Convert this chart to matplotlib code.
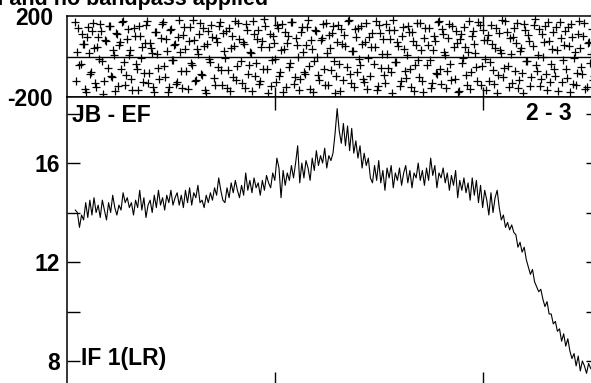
import matplotlib.pyplot as plt
import numpy as np

plt.rcParams['font.family'] = ['Liberation Sans', 'DejaVu Sans']
plt.rcParams['font.weight'] = 'bold'

# channel numbers of the plotted points
first_chan = 4
# amplitude per channel (lower panel)
amp = [14.1, 14.0, 13.4, 13.9, 13.7, 14.4, 13.8, 14.5, 13.9, 14.6,
       14.0, 14.3, 13.8, 14.5, 14.1, 13.7, 14.4, 14.0, 14.7, 14.2,
       13.9, 14.3, 14.1, 14.8, 14.4, 14.6, 14.2, 14.4, 13.9, 14.5,
       14.2, 14.9, 14.1, 14.6, 13.8, 14.3, 14.5, 14.0, 14.7, 14.2,
       14.9, 14.3, 14.6, 14.1, 14.7, 14.4, 14.9, 14.3, 14.6, 14.8,
       14.3, 14.7, 14.2, 14.9, 14.4, 15.0, 14.3, 14.8, 14.6, 15.1,
       14.4, 14.5, 14.2, 14.7, 14.4, 14.8, 14.5, 15.0, 14.7, 15.4,
       14.9, 14.5, 14.4, 15.0, 14.6, 15.2, 14.8, 15.3, 14.9, 14.6,
       15.1, 14.7, 15.6, 14.9, 15.3, 14.8, 15.4, 15.0, 15.2, 14.7,
       15.3, 14.9, 15.5, 15.2, 15.0, 15.6, 15.3, 16.2, 15.8, 14.6,
       15.7, 15.1, 15.6, 15.3, 15.9, 15.4, 16.0, 16.7, 15.2, 16.0,
       15.4, 16.1, 15.8, 15.3, 16.2, 15.7, 16.5, 15.9, 16.3, 16.0,
       16.6, 15.8, 16.3, 16.1, 16.4, 17.2, 18.2, 17.3, 16.8, 17.6,
       16.7, 17.5, 16.5, 17.4, 16.4, 16.9, 16.2, 16.7, 15.8, 16.4,
       15.9, 16.2, 15.4, 15.2, 15.9, 15.3, 16.1, 15.2, 15.7, 14.9,
       15.8, 15.4, 15.9, 15.0, 15.6, 15.3, 15.8, 15.1, 15.6, 15.9,
       15.2, 15.7, 15.0, 15.6, 15.4, 16.0, 15.3, 15.7, 15.1, 15.8,
       15.3, 16.2, 15.5, 15.9, 15.0, 15.6, 15.4, 15.8, 15.2, 15.6,
       14.9, 15.5, 15.1, 15.7, 14.6, 15.3, 14.9, 15.4, 14.8, 15.2,
       14.5, 15.4, 14.7, 15.3, 14.4, 15.1, 14.2, 14.9, 14.5, 13.9,
       14.8, 14.0, 14.6, 14.9, 14.2, 13.7, 13.9, 13.4, 13.6, 13.3,
       13.5, 13.2, 13.1, 12.6, 12.8, 12.4, 12.6, 12.1, 11.8, 11.5,
       11.7, 11.2, 11.0, 10.8, 10.9, 10.5, 10.2, 10.4, 9.9, 9.9,
       9.5, 9.6, 9.2, 9.3, 8.8, 9.1, 8.6, 8.9, 8.4, 8.1,
       8.3, 7.8, 8.2, 7.6, 8.0, 7.8, 7.5, 7.9, 7.7, 7.6]

# phases (degrees), two samples per channel (upper panel)
phase_a = [170, 20, -44, 112, 63, -176, 145, -86, 128, 40,
           -150, 95, 160, -20, -120, 75, 150, -95, 30, -170,
           110, 55, -60, 175, -140, 85, 5, -110, 140, -35,
           -165, 100, 45, -80, 155, -130, 65, 15, -175, 120,
           -55, 90, 170, -100, 25, -150, 135, -15, 60, -125,
           180, -70, 105, 35, -160, 145, -40, 80, -115, 10,
           165, -90, 50, -180, 125, -25, 95, -140, 70, 150,
           -65, 115, -5, -155, 140, 40, -100, 175, -45, 85,
           -130, 60, 160, -85, 20, -170, 110, -30, 130, -120,
           75, 185, -60, 45, -145, 100, -10, 155, -95, 30,
           -175, 120, 65, -50, 170, -135, 90, 0, -110, 145,
           -75, 55, 180, -160, 35, -20, 125, -90, 80, 160,
           -140, 15, 105, -65, 150, -180, 70, -35, 135, -115,
           50, 175, -85, 25, -150, 95, 140, -40, 60, -125,
           165, -5, -95, 115, 45, -165, 155, -55, 85, -130,
           10, 130, -75, 180, -25, 70, -145, 100, 35, -105,
           150, -60, 120, -170, 55, -15, 165, -120, 90, -40,
           140, -155, 30, 75, -85, 175, -135, 110, 5, -70,
           160, -115, 45, 125, -175, 85, -30, 145, -90, 20,
           -160, 100, 60, -50, 170, -140, 130, -10, 80, -120,
           155, -65, 40, -180, 115, 15, -100, 175, -45, 90,
           -130, 140, 65, -155, 25, -80, 160, -20, 105, -145,
           50, 185, -70, 135, -110, 0, 150, -165, 75, -35,
           120, -95, 30, 170, -125, 55, -60, 145, -175, 95,
           -5, -140, 110, 40, -85, 165, -150, 70, 10, -115]
phase_b = [-120, 140, -35, 60, -160, 95, 15, -75, 165, -130,
           45, -10, 125, -185, 80, -55, 150, -100, 5, 115,
           -145, 70, 170, -25, -90, 135, 30, -165, 100, -60,
           150, -5, -125, 65, 175, -80, 40, -150, 120, 10,
           -110, 160, -45, 85, -175, 130, -15, 55, -135, 95,
           20, -155, 145, -70, 75, -30, 180, -120, 35, 110,
           -85, 140, -165, 60, -10, 155, -105, 90, -50, 170,
           -140, 25, 125, -65, -170, 100, 50, -115, 165, -20,
           70, -155, 130, -40, 15, 175, -95, 85, -135, 45,
           -60, 150, -180, 110, -15, 65, -125, 140, -75, 160,
           35, -150, 100, -30, 170, -100, 55, -165, 120, 20,
           -85, 145, -45, 80, -175, 130, 0, -115, 90, -60,
           165, -140, 40, 115, -20, -95, 155, -170, 60, 105,
           -50, 180, -130, 25, 135, -75, -10, 150, -110, 70,
           -160, 95, 45, -35, 175, -145, 115, 10, -90, 160,
           -55, 85, -180, 130, -25, 50, -120, 145, -70, 5,
           120, -150, 75, -40, 165, -100, 30, -175, 140, 55,
           -15, -130, 100, -80, 170, -60, 135, 20, -155, 90,
           -35, 150, -110, 65, -170, 110, -5, 45, -140, 175,
           -75, 125, 15, -120, 155, -45, 80, -165, 105, -25,
           60, -135, 140, -90, 30, 180, -55, 120, -150, 10,
           95, -70, 165, -115, 40, -180, 130, -20, 75, -100,
           155, -40, 5, -145, 110, 70, -85, 170, -125, 35,
           -60, 145, -170, 90, -15, 125, -105, 50, 160, -135,
           20, -80, 175, -50, 100, -160, 65, -30, 135, -95]

chan = np.arange(first_chan, first_chan + len(amp))
chan_ph = np.arange(first_chan, first_chan + len(phase_a))

W, H = 591, 383
fig = plt.figure(figsize=(W / 100, H / 100), dpi=100)

def box(l, t, r, b):
    return [l / W, 1 - b / H, (r - l) / W, (b - t) / H]

axp = fig.add_axes(box(67, 16, 599, 97))
axa = fig.add_axes(box(67, 97, 599, 385))

# phase panel
axp.plot(chan_ph, phase_a, '+', color='black', ms=6, mew=0.9)
axp.plot(chan_ph + 0.5, phase_b, '+', color='black', ms=6, mew=0.9)
axp.axhline(0, color='black', lw=1)
axp.set_xlim(0, 256)
axp.set_ylim(-200, 200)
axp.set_xticks([100, 200])
axp.set_xticklabels([])
axp.set_yticks([-200, 200])
axp.set_yticklabels(['-200', '200'], fontsize=16.5, fontweight='bold')
axp.tick_params(axis='x', direction='in', length=7, width=1, top=True, bottom=True)
axp.tick_params(axis='y', length=0, pad=10)

# amplitude panel
axa.plot(chan, amp, color='black', lw=0.8)
axa.set_xlim(0, 256)
axa.set_ylim(7.03, 18.67)
axa.set_xticks([100, 200])
axa.set_xticklabels([])
axa.set_yticks([8, 10, 12, 14, 16, 18])
axa.set_yticklabels(['8', '', '12', '', '16', ''], fontsize=16.5, fontweight='bold')
axa.tick_params(axis='both', direction='in', length=9.5, width=1,
                top=True, bottom=True, left=True, right=True)
axa.tick_params(axis='y', pad=5)

for ax in (axp, axa):
    for s in ax.spines.values():
        s.set_linewidth(1.1)

axa.text(5 / 532, 1 - 18 / 288, 'JB - EF', transform=axa.transAxes,
         fontsize=16.5, fontweight='bold', va='center', ha='left')
axa.text(1 - 27 / 532, 1 - 17 / 288, '2 - 3', transform=axa.transAxes,
         fontsize=16.5, fontweight='bold', va='center', ha='right')
axa.text(14 / 532, 1 - 261 / 288, 'IF 1(LR)', transform=axa.transAxes,
         fontsize=16.5, fontweight='bold', va='center', ha='left')

fig.text(268 / W, 1 - 5 / H, 'applied and no bandpass applied',
         fontsize=15.5, fontweight='bold', ha='right', va='baseline')

fig.savefig('out.png', dpi=100)
